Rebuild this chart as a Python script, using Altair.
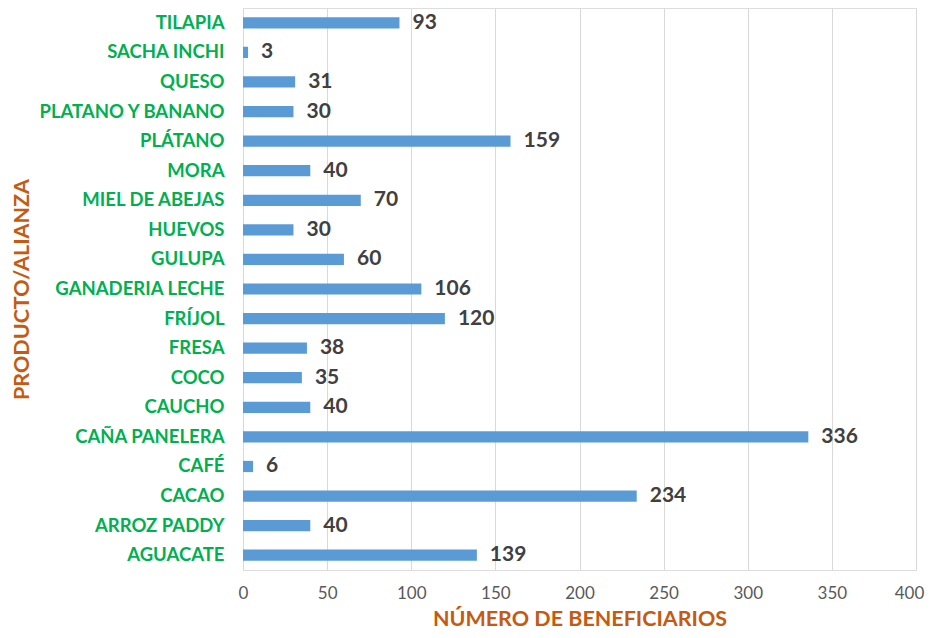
import altair as alt
import pandas as pd

categories = ["TILAPIA", "SACHA INCHI", "QUESO", "PLATANO Y BANANO", "PLÁTANO", "MORA",
              "MIEL DE ABEJAS", "HUEVOS", "GULUPA", "GANADERIA LECHE", "FRÍJOL", "FRESA\u00a0",
              "COCO", "CAUCHO", "CAÑA PANELERA", "CAFÉ", "CACAO", "ARROZ PADDY", "AGUACATE"]
values = [93, 3, 31, 30, 159, 40, 70, 30, 60, 106, 120, 38, 35, 40, 336, 6, 234, 40, 139]
x_ticks = [0, 50, 100, 150, 200, 250, 300, 350, 400]

df = pd.DataFrame({"cat": categories, "val": values})

FONT = "Lato"
H = 562

y_enc = alt.Y("cat:N", sort=categories,
              scale=alt.Scale(paddingInner=0.62, paddingOuter=0.31),
              axis=alt.Axis(title="PRODUCTO/ALIANZA", titleFont=FONT, titleFontSize=21.5,
                            titleFontWeight="bold", titleColor="#C55A11",
                            titleAngle=270, titleX=-221, titleY=H / 2,
                            titleAlign="center", titleBaseline="middle",
                            labelFont=FONT, labelFontSize=18.5, labelFontWeight="bold",
                            labelColor="#00B050", labelPadding=19, labelLimit=300,
                            ticks=False, domain=False, grid=False))

x_enc = alt.X("val:Q", scale=alt.Scale(domain=[0, 400], nice=False),
              axis=alt.Axis(values=x_ticks, title="NÚMERO DE BENEFICIARIOS",
                            titleFont=FONT, titleFontSize=21.5, titleFontWeight="bold",
                            titleColor="#C55A11", titleY=55, titleBaseline="alphabetic",
                            labelFont=FONT, labelFontSize=17, labelFontWeight="normal",
                            labelColor="#595959", labelPadding=15, labelFlush=False,
                            labelOffset={"condition": {"test": "datum.value === 400", "value": -7},
                                         "value": 0},
                            ticks=False, domain=False, grid=True,
                            gridColor="#D9D9D9", gridWidth=1))

bars = alt.Chart(df).mark_bar(color="#5B9BD5").encode(x=x_enc, y=y_enc)
text = alt.Chart(df).mark_text(align="left", baseline="middle", dx=13, font=FONT,
                               fontSize=21, fontWeight="bold", color="#404040").encode(
    x="val:Q", y=alt.Y("cat:N", sort=categories), text="val:Q")

chart = (bars + text).properties(
    width=673, height=H,
    autosize=alt.AutoSizeParams(type="none"),
    padding={"left": 235, "top": 0, "right": 9, "bottom": 60},
).configure_view(stroke=None).configure(background="white")

chart.save("out.html", embed_options={"renderer": "svg", "actions": False})
